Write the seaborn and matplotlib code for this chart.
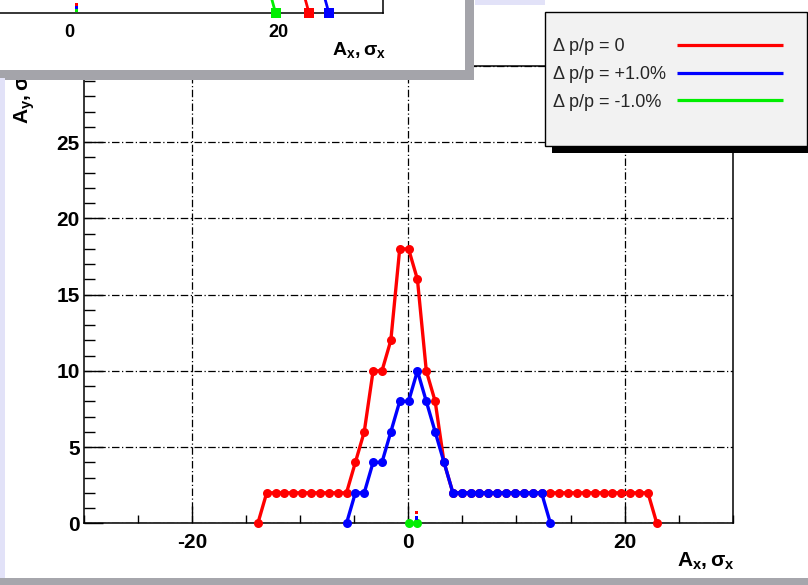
import matplotlib
matplotlib.use("Agg")
import matplotlib.pyplot as plt
import seaborn as sns
import pandas as pd
from matplotlib.lines import Line2D
from matplotlib.patches import Rectangle
from matplotlib.ticker import MultipleLocator
from matplotlib.legend_handler import HandlerLine2D

# ---------------- data ----------------
series_names = ["Δ p/p = 0", "Δ p/p = +1.0%", "Δ p/p = -1.0%"]
series_colors = ["#ff0000", "#0000ff", "#00ee00"]

x_grid = [-13.92, -13.10, -12.28, -11.46, -10.64, -9.82, -9.00, -8.18, -7.36,
          -6.54, -5.72, -4.90, -4.08, -3.26, -2.44, -1.62, -0.80, 0.02, 0.84,
          1.66, 2.48, 3.30, 4.12, 4.94, 5.76, 6.58, 7.40, 8.22, 9.04, 9.86,
          10.68, 11.50, 12.32, 13.14, 13.96, 14.78, 15.60, 16.42, 17.24, 18.06,
          18.88, 19.70, 20.52, 21.34, 22.16, 22.98]
red_y = [0, 2, 2, 2, 2, 2, 2, 2, 2, 2, 2,
         4, 6, 10, 10, 12, 18, 18, 16, 10, 8, 4, 2,
         2, 2, 2, 2, 2, 2, 2, 2, 2, 2, 2, 2, 2, 2, 2, 2, 2, 2, 2, 2, 2, 2,
         0]
blue_x = [-5.72, -4.90, -4.08, -3.26, -2.44, -1.62, -0.80, 0.02, 0.84, 1.66,
          2.48, 3.30, 4.12, 4.94, 5.76, 6.58, 7.40, 8.22, 9.04, 9.86, 10.68,
          11.50, 12.32, 13.14]
blue_y = [0, 2, 2, 4, 4, 6, 8, 8, 10, 8, 6, 4, 2,
          2, 2, 2, 2, 2, 2, 2, 2, 2, 2, 0]
green_x = [0.02, 0.84]
green_y = [0, 0]

tiny_x = [0.74, 0.74]
tiny_y = [0.68, 0.35]
tiny_series = [series_names[0], series_names[1]]

# inset (partially visible plot at top-left)
inset_red_x = [21.3, 22.1, 22.9]
inset_red_y = [2, 2, 0]
inset_blue_x = [23.2, 24.0, 24.8]
inset_blue_y = [2, 2, 0]
inset_green_x = [18.1, 18.9, 19.7]
inset_green_y = [2, 2, 0]
inset_tiny_x = [0.64, 0.64, 0.64]
inset_tiny_y = [0.6, 0.38, 0.18]

x_ticks = [-20, 0, 20]
x_tick_labels = ["-20", "0", "20"]
inset_x_ticks = [0, 20]
inset_x_tick_labels = ["0", "20"]
y_ticks = [0, 5, 10, 15, 20, 25, 30]
y_tick_labels = ["0", "5", "10", "15", "20", "25", "30"]
x_label = r"$\mathbf{A_x, \sigma_x}$"
y_label = r"$\mathbf{A_y, \sigma_y}$"

# ---------------- style ----------------
sns.set_theme(style="white")
plt.rcParams["font.family"] = ["Liberation Sans", "DejaVu Sans"]
plt.rcParams["mathtext.fontset"] = "custom"
plt.rcParams["mathtext.rm"] = "Liberation Sans"
plt.rcParams["mathtext.bf"] = "Liberation Sans:bold"
plt.rcParams["mathtext.it"] = "Liberation Sans:italic"

W, H = 808, 585
def fx(px):
    return px / W
def fy(py):
    return 1 - py / H

fig = plt.figure(figsize=(W / 100, H / 100), dpi=100)
fig.patch.set_facecolor("white")

palette = dict(zip(series_names, series_colors))

# ---------------- main axes ----------------
ax = fig.add_axes([fx(84), fy(523.3), (732.7 - 84) / W, (523.3 - 66) / H], zorder=0)
ax.set_facecolor("white")

df = pd.DataFrame({
    "x": x_grid + blue_x + green_x,
    "y": red_y + blue_y + green_y,
    "series": [series_names[0]] * len(red_y) + [series_names[1]] * len(blue_y)
              + [series_names[2]] * len(green_y),
})
sns.lineplot(data=df, x="x", y="y", hue="series", hue_order=series_names,
             palette=palette, marker="o", markersize=6.5, markeredgewidth=0,
             linewidth=2.4, sort=False, estimator=None, legend=False, ax=ax,
             clip_on=False, zorder=3)
sns.scatterplot(x=tiny_x, y=tiny_y, hue=tiny_series, palette=palette,
                marker="s", s=5, linewidth=0, legend=False, ax=ax, zorder=3)

ax.set_xlim(-30, 30)
ax.set_ylim(0, 30)
ax.set_xticks(x_ticks, labels=x_tick_labels, fontweight="bold", fontsize=15)
ax.set_yticks(y_ticks, labels=y_tick_labels, fontweight="bold", fontsize=15)
ax.xaxis.set_minor_locator(MultipleLocator(5))
ax.yaxis.set_minor_locator(MultipleLocator(1))
ax.tick_params(axis="x", which="major", direction="in", length=12, width=1,
               pad=7, color="black", labelcolor="black", top=False, bottom=True)
ax.tick_params(axis="x", which="minor", direction="in", length=6, width=1,
               color="black", top=False, bottom=True)
ax.tick_params(axis="y", which="major", direction="in", length=14, width=1,
               pad=3, color="black", labelcolor="black", right=False, left=True)
ax.tick_params(axis="y", which="minor", direction="in", length=8, width=1,
               color="black", right=False, left=True)
for sp in ax.spines.values():
    sp.set_color("black")
    sp.set_linewidth(1.1)
ax.grid(True, which="major", color="black", linestyle=(0, (6, 2, 1, 2)), linewidth=0.9)
ax.set_axisbelow(False)

ax.set_xlabel(x_label, loc="right", fontsize=15, color="black")
ax.xaxis.set_label_coords(1.003, -(551 - 523.3) / (523.3 - 66))
ax.set_ylabel(y_label, loc="top", fontsize=15, color="black")
ax.yaxis.set_label_coords((37 - 84) / (732.7 - 84), 1.0)

# ---------------- canvas decorations ----------------
fig.patches.append(Rectangle((0, 0), 1, 7 / H, transform=fig.transFigure,
                             facecolor="#a6a6ac", edgecolor="none", zorder=6))
fig.patches.append(Rectangle((0, fy(578)), fx(5), (578 - 78) / H, transform=fig.transFigure,
                             facecolor="#e2e2f8", edgecolor="none", zorder=6))
fig.patches.append(Rectangle((fx(475), fy(5)), fx(70), 5 / H, transform=fig.transFigure,
                             facecolor="#e2e2f8", edgecolor="none", zorder=6))

# legend box with black shadow
fig.patches.append(Rectangle((fx(552), fy(153.3)), fx(820 - 552), (153.3 - 19) / H,
                             transform=fig.transFigure, facecolor="black",
                             edgecolor="none", zorder=3))
fig.patches.append(Rectangle((fx(545), fy(145.7)), fx(806.7 - 545), (145.7 - 12.3) / H,
                             transform=fig.transFigure, facecolor="#f2f2f2",
                             edgecolor="black", linewidth=1.0, zorder=3.1))


class RightLine(HandlerLine2D):
    def create_artists(self, legend, orig_handle, xdescent, ydescent, width,
                       height, fontsize, trans):
        y = (height - ydescent) / 2.0
        x0 = (676.7 - 553) * 0.72
        x1 = (783.3 - 553) * 0.72
        line = Line2D([-xdescent + x0, -xdescent + x1], [y, y],
                      color=orig_handle.get_color(), linewidth=2.3,
                      solid_capstyle="butt")
        line.set_transform(trans)
        return [line]


handles = [Line2D([], [], color=c, linewidth=2.3) for c in series_colors]
leg = fig.legend(handles, series_names, loc="upper left",
                 bbox_to_anchor=(fx(553), fy(38)), frameon=False, borderpad=0,
                 borderaxespad=0, handlelength=0, handletextpad=0,
                 labelspacing=0.6, fontsize=13,
                 handler_map={Line2D: RightLine()})
leg.set_zorder(5)

# ---------------- inset (top-left) ----------------
fig.patches.append(Rectangle((0, fy(80)), fx(474), 80 / H, transform=fig.transFigure,
                             facecolor="#a4a4aa", edgecolor="none", zorder=3))
fig.patches.append(Rectangle((0, fy(70)), fx(465), 70 / H, transform=fig.transFigure,
                             facecolor="white", edgecolor="none", zorder=3.1))

ax2 = fig.add_axes([fx(-243.7), fy(13.3), 627 / W, 456 / H], zorder=4)
ax2.set_facecolor("none")
df2 = pd.DataFrame({
    "x": inset_red_x + inset_blue_x + inset_green_x,
    "y": inset_red_y + inset_blue_y + inset_green_y,
    "series": [series_names[0]] * 3 + [series_names[1]] * 3 + [series_names[2]] * 3,
})
sns.lineplot(data=df2, x="x", y="y", hue="series", hue_order=series_names,
             palette=palette, marker="s", markersize=6.5, markeredgewidth=0,
             linewidth=2.0, sort=False, estimator=None, legend=False, ax=ax2,
             clip_on=False, zorder=3)
sns.scatterplot(x=inset_tiny_x, y=inset_tiny_y, hue=series_names, palette=palette,
                marker="s", s=5, linewidth=0, legend=False, ax=ax2, zorder=3)
ax2.set_xlim(-30, 30)
ax2.set_ylim(0, 30)
ax2.set_xticks(inset_x_ticks, labels=inset_x_tick_labels, fontweight="bold", fontsize=13)
ax2.set_yticks([])
ax2.xaxis.set_minor_locator(MultipleLocator(5))
ax2.tick_params(axis="x", which="major", direction="in", length=12, width=1,
                pad=8, color="black", labelcolor="black", top=False)
ax2.tick_params(axis="x", which="minor", direction="in", length=5, width=1,
                color="black", top=False)
for name, sp in ax2.spines.items():
    sp.set_color("black")
    sp.set_linewidth(1.1)
    if name in ("top", "left"):
        sp.set_visible(False)
ax2.set_xlabel(x_label, loc="right", fontsize=14, color="black")
ax2.xaxis.set_label_coords(1.005, -(40 - 13.3) / 456)
ax2.set_ylabel("")

fig.savefig("out.png", dpi=100)
